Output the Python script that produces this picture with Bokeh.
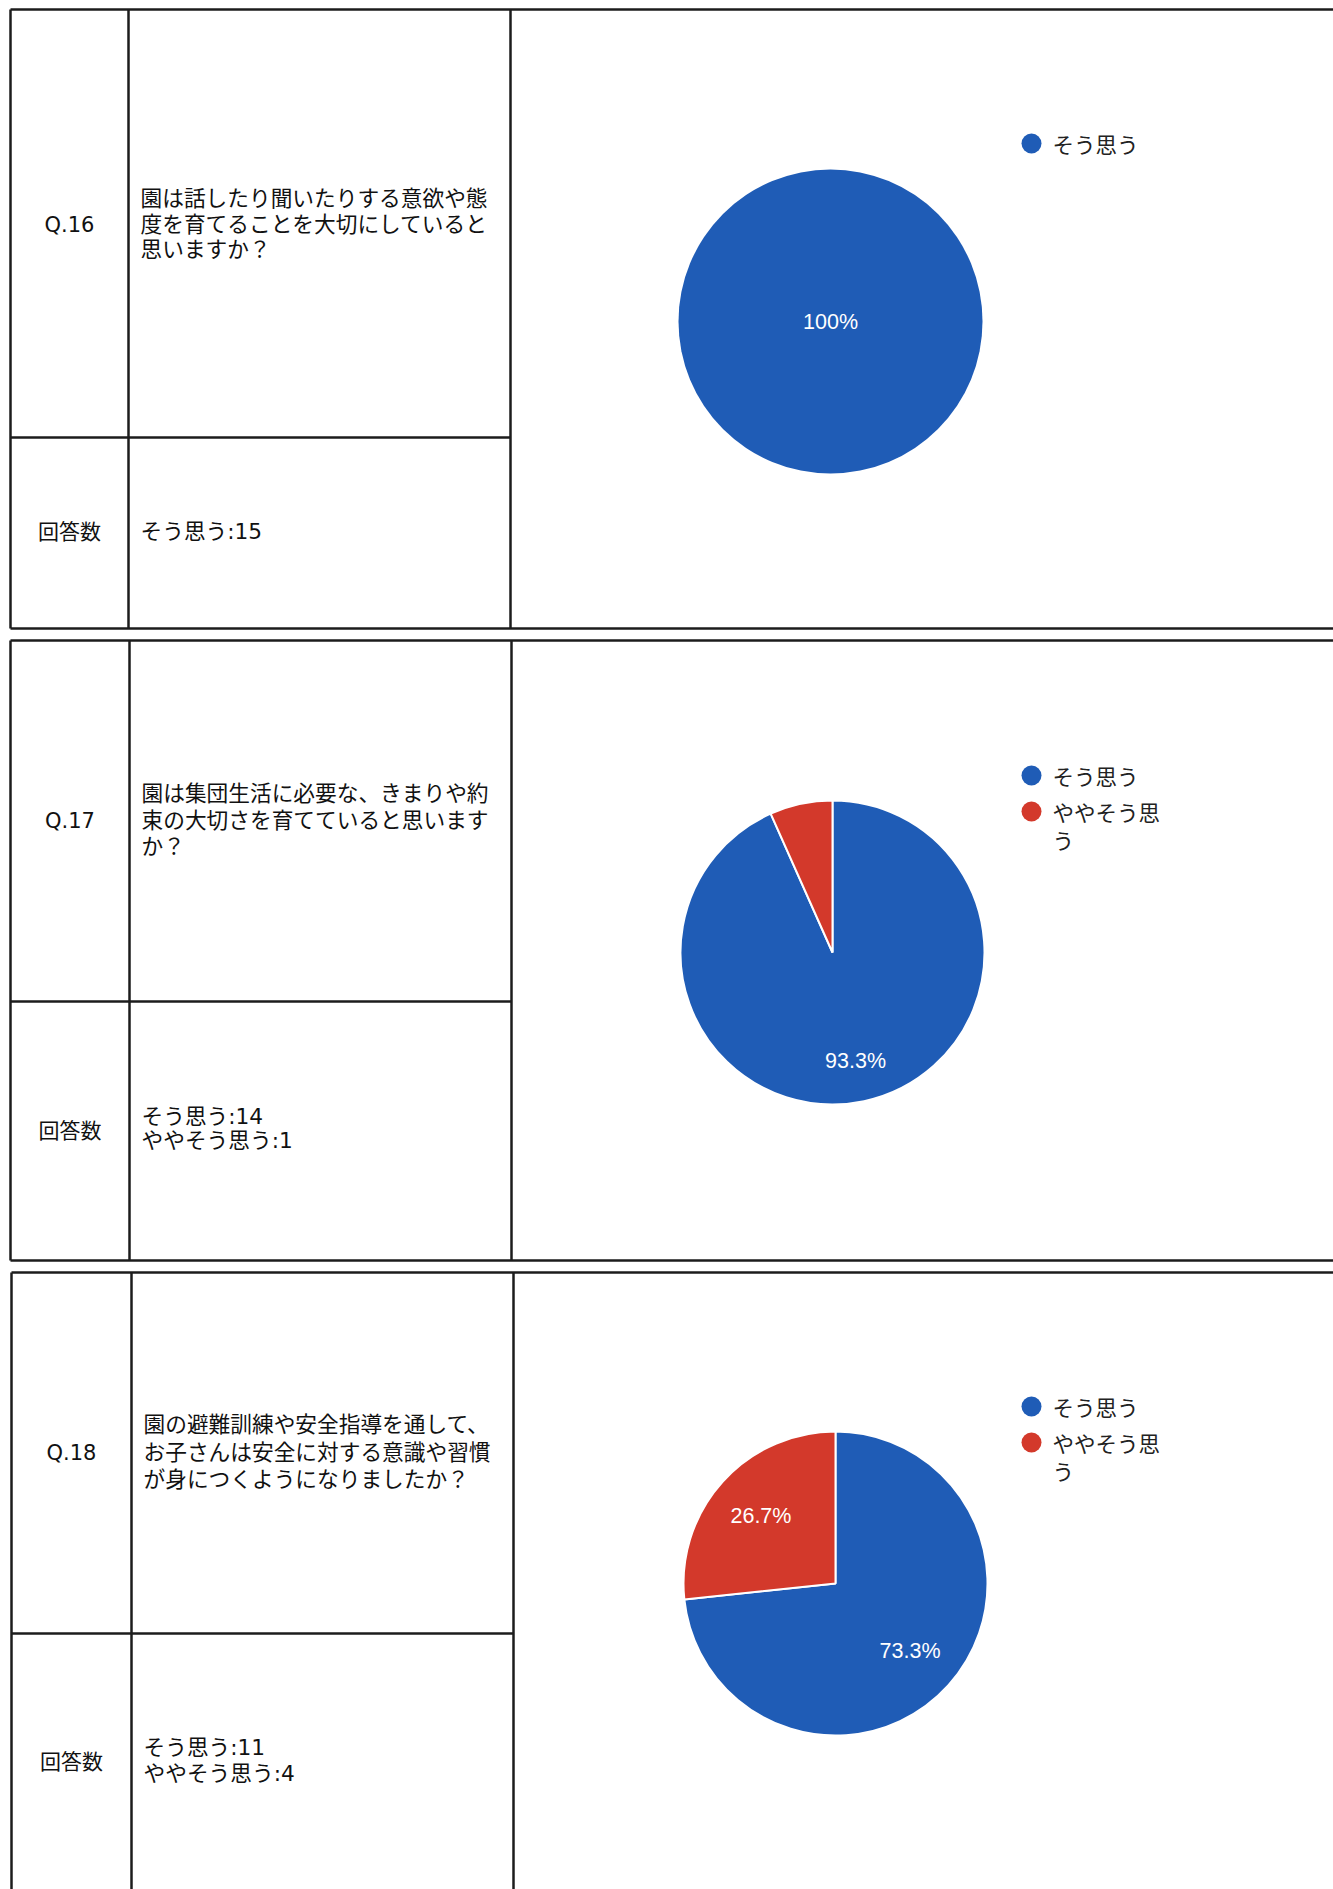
import math
from bokeh.plotting import figure
from bokeh.models import Range1d, ColumnDataSource
from bokeh.core.properties import value
from bokeh.embed import file_html
from bokeh.resources import INLINE

W, H = 1333, 1889

# ---------------- data ----------------
question_ids = ["Q.16", "Q.17", "Q.18"]
question_lines = [
    ["園は話したり聞いたりする意欲や態", "度を育てることを大切にしていると", "思いますか？"],
    ["園は集団生活に必要な、きまりや約", "束の大切さを育てていると思います", "か？"],
    ["園の避難訓練や安全指導を通して、", "お子さんは安全に対する意識や習慣", "が身につくようになりましたか？"],
]
answer_header = "回答数"
categories = ["そう思う", "ややそう思う"]
q16_counts = [15]
q17_counts = [14, 1]
q18_counts = [11, 4]
all_counts = [q16_counts, q17_counts, q18_counts]
slice_colors = ["#1f5cb6", "#d3392b"]

# ---------------- layout (page pixels, y downward) ----------------
tables = [
    dict(top=9, row=437, bottom=628, left=10, c1=128, c2=510, qy=[198, 224, 249], qid_y=224,
         ans_y=531, ans_lines=[531], pie=(830, 321), leg_y=143, label_k=0.72),
    dict(top=640, row=1001, bottom=1260, left=10, c1=129, c2=511, qy=[793, 820, 846], qid_y=820,
         ans_y=1130, ans_lines=[1116, 1140], pie=(832, 952), leg_y=775, label_k=0.73),
    dict(top=1272, row=1633, bottom=1900, left=11, c1=131, c2=513, qy=[1424, 1452, 1479], qid_y=1452,
         ans_y=1761, ans_lines=[1747, 1773], pie=(835, 1583), leg_y=1406, label_k=0.66),
]
R = 152
RIGHT = 1345
CJK = value("DejaVu Sans, Noto Sans CJK JP")


def Y(py):
    return H - py


p = figure(width=W, height=H, x_range=Range1d(0, W), y_range=Range1d(0, H),
           output_backend="svg", toolbar_location=None,
           x_axis_location=None, y_axis_location=None, min_border=0)
p.grid.visible = False
p.outline_line_color = None
p.background_fill_color = "white"
p.border_fill_color = "white"

# table lines
x0s, y0s, x1s, y1s = [], [], [], []
for t in tables:
    for yy in (t["top"], t["bottom"]):
        x0s += [t["left"]]; x1s += [RIGHT]; y0s += [Y(yy)]; y1s += [Y(yy)]
    x0s += [t["left"]]; x1s += [t["c2"]]; y0s += [Y(t["row"])]; y1s += [Y(t["row"])]
    for xx in (t["left"], t["c1"], t["c2"]):
        x0s += [xx]; x1s += [xx]; y0s += [Y(t["top"])]; y1s += [Y(t["bottom"])]
p.segment(x0=x0s, y0=y0s, x1=x1s, y1=y1s, line_color="#1c1c1c", line_width=2.5)

# table texts
for i, t in enumerate(tables):
    cx1 = (t["left"] + t["c1"]) / 2
    p.text(x=[cx1, cx1], y=[Y(t["qid_y"]), Y(t["ans_y"])], text=[question_ids[i], answer_header],
           text_font=CJK, text_font_size="21px", text_color="#111111",
           text_align="center", text_baseline="middle")
    qlines = question_lines[i]
    p.text(x=[t["c1"] + 12] * len(qlines), y=[Y(v) for v in t["qy"]], text=qlines,
           text_font=CJK, text_font_size="21.7px", text_color="#111111",
           text_align="left", text_baseline="middle")
    counts = all_counts[i]
    alines = [f"{categories[j]}:{c}" for j, c in enumerate(counts)]
    p.text(x=[t["c1"] + 12] * len(alines), y=[Y(v) for v in t["ans_lines"]], text=alines,
           text_font=CJK, text_font_size="21.7px", text_color="#111111",
           text_align="left", text_baseline="middle")

# pies
for i, t in enumerate(tables):
    counts = all_counts[i]
    total = sum(counts)
    cx, cy = t["pie"]
    cyd = Y(cy)
    cum = 0.0
    starts, ends, cols = [], [], []
    lx, ly, lt = [], [], []
    for j, c in enumerate(counts):
        f0 = cum / total
        f1 = (cum + c) / total
        cum += c
        starts.append(math.pi / 2 - 2 * math.pi * f0)
        ends.append(math.pi / 2 - 2 * math.pi * f1)
        cols.append(slice_colors[j])
        frac = c / total
        if frac >= 0.999:
            lx.append(cx); ly.append(cyd); lt.append("100%")
        elif frac >= 0.1:
            mid = math.pi / 2 - 2 * math.pi * (f0 + f1) / 2
            k = t["label_k"] * R
            lx.append(cx + k * math.cos(mid)); ly.append(cyd + k * math.sin(mid))
            lt.append(f"{frac * 100:.1f}%")
    if len(counts) == 1:
        p.circle(x=[cx], y=[cyd], radius=R, fill_color=cols[0], line_color=None)
    else:
        src = ColumnDataSource(dict(x=[cx] * len(counts), y=[cyd] * len(counts),
                                    s=starts, e=ends, c=cols))
        p.wedge(x="x", y="y", radius=R, start_angle="s", end_angle="e", direction="clock",
                fill_color="c", line_color="white", line_width=2, source=src)
    p.text(x=lx, y=ly, text=lt, text_font=value("Liberation Sans"), text_font_size="21.5px",
           text_color="white", text_align="center", text_baseline="middle")

    # legend
    ly0 = t["leg_y"]
    dots_y, texts_x, texts_y, texts = [], [], [], []
    yy = ly0
    for j in range(len(counts)):
        name = categories[j]
        wrapped = [name[k:k + 5] for k in range(0, len(name), 5)]
        dots_y.append(Y(yy))
        for n, w in enumerate(wrapped):
            texts_x.append(1052); texts_y.append(Y(yy + n * 28)); texts.append(w)
        yy += 36 + (len(wrapped) - 1) * 28
    p.circle(x=[1031] * len(dots_y), y=dots_y, radius=10,
             fill_color=slice_colors[:len(dots_y)], line_color=None)
    p.text(x=texts_x, y=texts_y, text=texts, text_font=value("Noto Sans CJK JP"),
           text_font_size="21.5px", text_color="#222222", text_align="left", text_baseline="middle")

open("out.html", "w").write(file_html(p, INLINE))
